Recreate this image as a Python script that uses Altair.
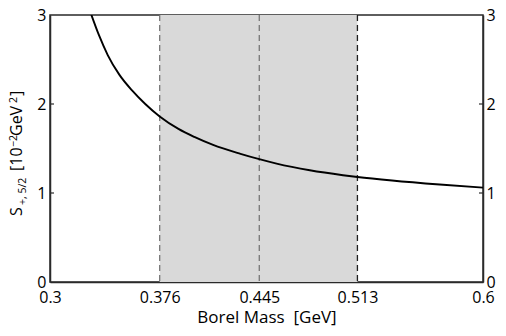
import altair as alt
import pandas as pd

# ---- data ----
mass = [0.3287, 0.334, 0.340, 0.348, 0.357, 0.366, 0.376, 0.389, 0.400, 0.413,
        0.432, 0.445, 0.457, 0.480, 0.503, 0.513, 0.537, 0.570, 0.600]
s_val = [3.00, 2.77, 2.55, 2.33, 2.15, 2.00, 1.86, 1.72, 1.63, 1.54,
         1.44, 1.38, 1.33, 1.255, 1.20, 1.18, 1.14, 1.095, 1.06]
band_lo = [0.376]
band_hi = [0.513]
vline_x = [0.376, 0.445, 0.513]
vline_col = ["#767676", "#767676", "#1e1e1e"]
x_ticks = [0.3, 0.376, 0.445, 0.513, 0.6]
y_ticks = [0, 1, 2, 3]
inner_y_ticks = [1, 2]

W, H = 433, 267
FONT = "Open Sans"
AX = "#2a2a2a"

xs = alt.Scale(domain=[0.3, 0.6], nice=False, zero=False)
ys = alt.Scale(domain=[0, 3], nice=False, zero=False)

x_axis = alt.Axis(values=x_ticks, format=".3~f", title="Borel Mass\u00a0 [GeV]",
                  ticks=False, grid=False, labelPadding=7, titlePadding=4,
                  labelFlush=False, labelOverlap=False)
left_axis = alt.Axis(values=y_ticks, format="d", title=None, ticks=False, grid=False,
                     labelPadding=4, labelFlush=False, labelOverlap=False, orient="left")
right_axis = alt.Axis(values=y_ticks, format="d", title=None, ticks=False, grid=False,
                      labelPadding=3, labelFlush=False, labelOverlap=False, orient="right")

band = alt.Chart(pd.DataFrame({"lo": band_lo, "hi": band_hi})).mark_rect(
    color="#d9d9d9").encode(
    x=alt.X("lo:Q", scale=xs, axis=x_axis),
    x2="hi:Q",
    y=alt.value(0), y2=alt.value(H))

vlines = alt.Chart(pd.DataFrame({"m": vline_x, "c": vline_col})).mark_rule(
    strokeDash=[6, 4], strokeWidth=1.3).encode(
    x=alt.X("m:Q", scale=xs, axis=x_axis),
    color=alt.Color("c:N", scale=None))

curve = alt.Chart(pd.DataFrame({"m": mass, "s": s_val})).mark_line(
    color="black", strokeWidth=1.9, interpolate="monotone", clip=True).encode(
    x=alt.X("m:Q", scale=xs, axis=x_axis),
    y=alt.Y("s:Q", scale=ys, axis=left_axis))

tick_df = pd.DataFrame({"v": inner_y_ticks})
lticks = alt.Chart(tick_df).mark_rule(color=AX, strokeWidth=1.2).encode(
    y=alt.Y("v:Q", scale=ys, axis=None), x=alt.value(0), x2=alt.value(4))
rticks = alt.Chart(tick_df).mark_rule(color=AX, strokeWidth=1.2).encode(
    y=alt.Y("v:Q", scale=ys, axis=right_axis), x=alt.value(W - 4), x2=alt.value(W))


def piece(txt, size, x, y):
    return alt.Chart(pd.DataFrame({"t": [txt]})).mark_text(
        angle=270, align="left", baseline="alphabetic", font=FONT,
        fontSize=size, color="black").encode(
        text="t:N", x=alt.value(x), y=alt.value(y))


title_layers = [
    piece("S", 16, -28, 201),
    piece("+, 5/2", 10.5, -24.5, 190),
    piece("[10", 16, -28, 156),
    piece("\u22122", 10.5, -33.5, 132),
    piece("GeV", 16, -28, 121),
    piece("2", 10.5, -33.5, 88),
    piece("]", 16, -28, 81),
]

chart = alt.layer(band, vlines, curve, lticks, rticks, *title_layers).resolve_axis(
    y="independent").properties(
    width=W, height=H,
    autosize=alt.AutoSizeParams(type="none"),
    padding={"left": 42, "top": 7, "right": 15, "bottom": 46},
).configure_view(stroke=AX, strokeWidth=1.5).configure_axis(
    labelFont=FONT, labelFontSize=16, labelColor="black",
    titleFont=FONT, titleFontSize=17, titleFontWeight="normal", titleColor="black",
    domainColor=AX, domainWidth=1.5)

chart.save("out.html", embed_options={"renderer": "svg", "actions": False})
